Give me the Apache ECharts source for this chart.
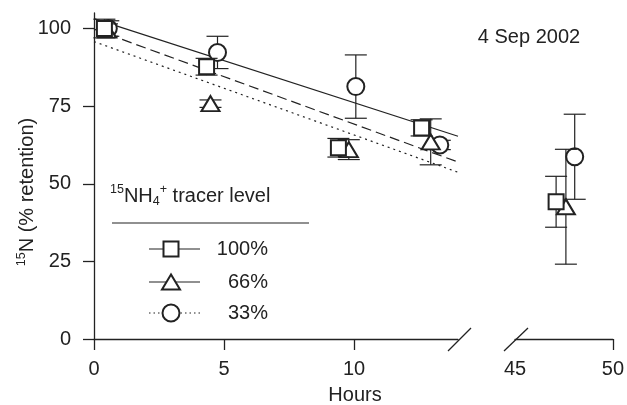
<!DOCTYPE html>
<html>
<head>
<meta charset="utf-8">
<script src="https://cdn.jsdelivr.net/npm/echarts@6/dist/echarts.min.js"></script>
<style>
html,body{margin:0;padding:0;background:#fff;}
#chart{width:627px;height:405px;}
</style>
</head>
<body>
<div id="chart"></div>
<script>
// ---- data (x = hours, y = % retention, e = error half-width) ----
const yTicks = [0, 25, 50, 75, 100];
const xTicksLeft = [0, 5, 10];
const xTicksRight = [45, 50];

const squareLeft   = [[0.40, 100.0, 3.0], [4.33, 87.7, 2.7], [9.40, 61.6, 3.0], [12.60, 68.0, 2.6]];
const squareRight  = [[47.10, 44.2, 8.2]];
const triangleLeft = [[0.50, 99.5, 2.0], [4.48, 75.8, 1.2], [9.80, 61.0, 3.2], [12.95, 63.5, 7.4]];
const triangleRight= [[47.60, 42.6, 18.5]];
const circleLeft   = [[0.55, 100.0, 2.5], [4.75, 92.3, 5.2], [10.07, 81.3, 10.2], [13.30, 62.5, 1.5]];
const circleRight  = [[48.05, 58.7, 13.7]];

const fit100 = [[0, 103.2], [14, 65.3]];
const fit66  = [[0, 99.8], [14, 57.0]];
const fit33  = [[0, 95.8], [14, 53.7]];

const legendLabels = ['100%', '66%', '33%'];
const dateLabel = '4 Sep 2002';
const xName = 'Hours';

// ---- chart ----
const FONT = 'Liberation Sans, Arial, Helvetica, sans-serif';
const INK = '#222';
const FS = 20;
const chart = echarts.init(document.getElementById('chart'), null, {renderer: 'canvas'});

function errRender(params, api) {
  const x = api.value(0), y = api.value(1), e = api.value(2);
  const t = api.coord([x, y + e]);
  const b = api.coord([x, y - e]);
  const hw = 11;
  const st = {stroke: INK, lineWidth: 1.2};
  return {type: 'group', children: [
    {type: 'line', shape: {x1: t[0], y1: t[1], x2: b[0], y2: b[1]}, style: st},
    {type: 'line', shape: {x1: t[0] - hw, y1: t[1], x2: t[0] + hw, y2: t[1]}, style: st},
    {type: 'line', shape: {x1: b[0] - hw, y1: b[1], x2: b[0] + hw, y2: b[1]}, style: st}
  ]};
}

function errSeries(data, xi, z) {
  return {type: 'custom', xAxisIndex: xi, yAxisIndex: xi, data: data, renderItem: errRender,
          z: z, silent: true, encode: {x: 0, y: 1}};
}
function symSeries(data, xi, symbol, size, z) {
  return {type: 'scatter', xAxisIndex: xi, yAxisIndex: xi, data: data, symbol: symbol,
          symbolSize: size, z: z, silent: true,
          itemStyle: {color: '#fff', borderColor: INK, borderWidth: 2, opacity: 1}};
}
function fitSeries(data, type) {
  return {type: 'line', xAxisIndex: 0, yAxisIndex: 0, data: data, symbol: 'none', z: 1, silent: true,
          lineStyle: {color: INK, width: 1.2, type: type}};
}

const axisLabelStyle = {color: INK, fontSize: FS, fontFamily: FONT};

chart.setOption({
  animation: false,
  grid: [
    {left: 94, width: 364, top: 13, bottom: 66},
    {left: 515, width: 104, top: 13, bottom: 66}
  ],
  xAxis: [
    {type: 'value', gridIndex: 0, min: 0, max: 14,
     axisLine: {show: true, lineStyle: {color: INK, width: 1.3}},
     axisTick: {show: true, length: 11, customValues: xTicksLeft, lineStyle: {color: INK, width: 1.3}},
     axisLabel: Object.assign({margin: 20, customValues: xTicksLeft}, axisLabelStyle),
     splitLine: {show: false}},
    {type: 'value', gridIndex: 1, min: 45, max: 50,
     axisLine: {show: true, lineStyle: {color: INK, width: 1.3}},
     axisTick: {show: true, length: 11, customValues: [xTicksRight[1]], lineStyle: {color: INK, width: 1.3}},
     axisLabel: Object.assign({margin: 20, customValues: xTicksRight}, axisLabelStyle),
     splitLine: {show: false}}
  ],
  yAxis: [
    {type: 'value', gridIndex: 0, min: 0, max: 105,
     axisLine: {show: true, lineStyle: {color: INK, width: 1.3}},
     axisTick: {show: true, length: 11, customValues: yTicks, lineStyle: {color: INK, width: 1.3}},
     axisLabel: Object.assign({margin: 23, customValues: yTicks}, axisLabelStyle),
     splitLine: {show: false}},
    {type: 'value', gridIndex: 1, min: 0, max: 105, show: false, splitLine: {show: false}}
  ],
  series: [
    fitSeries(fit100, 'solid'),
    fitSeries(fit66, [10, 5]),
    fitSeries(fit33, [2, 4]),
    errSeries(circleLeft, 0, 2), symSeries(circleLeft, 0, 'circle', 17, 3),
    errSeries(circleRight, 1, 2), symSeries(circleRight, 1, 'circle', 17, 3),
    errSeries(triangleLeft, 0, 4), symSeries(triangleLeft, 0, 'triangle', [18, 15], 5),
    errSeries(triangleRight, 1, 4), symSeries(triangleRight, 1, 'triangle', [18, 15], 5),
    errSeries(squareLeft, 0, 6), symSeries(squareLeft, 0, 'rect', 15, 7),
    errSeries(squareRight, 1, 6), symSeries(squareRight, 1, 'rect', 15, 7)
  ]
});

// ---- annotations, legend, axis break marks ----
const pL = chart.convertToPixel({xAxisIndex: 0, yAxisIndex: 0}, [14, 0]);
const pR = chart.convertToPixel({xAxisIndex: 1, yAxisIndex: 1}, [45, 0]);
const slashStyle = {stroke: INK, lineWidth: 1.3};
const lg = {x1: 149, x2: 200, cx: 171, textRight: 268, ys: [249, 282, 313]};

const txt = (x, y, text, extra) => ({type: 'text', x: x, y: y, silent: true,
  style: Object.assign({text: text, fill: INK, fontSize: FS, fontFamily: FONT}, extra || {})});

chart.setOption({
  graphic: [
    // axis breaks
    {type: 'line', silent: true, shape: {x1: pL[0] - 10, y1: pL[1] + 12, x2: pL[0] + 13, y2: pL[1] - 11}, style: slashStyle},
    {type: 'line', silent: true, shape: {x1: pR[0] - 11, y1: pR[1] + 12, x2: pR[0] + 13, y2: pR[1] - 11}, style: slashStyle},
    // texts
    txt(529, 37, dateLabel, {align: 'center', verticalAlign: 'middle'}),
    txt(355, 395, xName, {align: 'center', verticalAlign: 'middle'}),
    {type: 'text', x: 27, y: 192, rotation: Math.PI / 2, silent: true,
     style: {text: '{s|15}N (% retention)', fill: INK, fontSize: FS, fontFamily: FONT,
             align: 'center', verticalAlign: 'middle',
             rich: {s: {fontSize: 12.5, fontFamily: FONT, fill: INK, verticalAlign: 'top', lineHeight: 23}}}},
    // legend
    {type: 'text', x: 110, y: 196, silent: true,
     style: {text: '{s|15}NH{b|4}{s|+} tracer level', fill: INK, fontSize: FS, fontFamily: FONT,
             align: 'left', verticalAlign: 'middle',
             rich: {s: {fontSize: 12.5, fontFamily: FONT, fill: INK, verticalAlign: 'top', lineHeight: 25},
                    b: {fontSize: 12.5, fontFamily: FONT, fill: INK, verticalAlign: 'bottom', lineHeight: 25}}}},
    {type: 'line', silent: true, shape: {x1: 112, y1: 223, x2: 309, y2: 223}, style: {stroke: INK, lineWidth: 1.2}},
    {type: 'line', silent: true, shape: {x1: lg.x1, y1: lg.ys[0], x2: lg.x2, y2: lg.ys[0]}, style: {stroke: INK, lineWidth: 1.2}},
    {type: 'line', silent: true, shape: {x1: lg.x1, y1: lg.ys[1], x2: lg.x2, y2: lg.ys[1]}, style: {stroke: INK, lineWidth: 1.2}},
    {type: 'line', silent: true, shape: {x1: lg.x1, y1: lg.ys[2], x2: lg.x2, y2: lg.ys[2]}, style: {stroke: INK, lineWidth: 1.2, lineDash: [1.5, 3]}},
    {type: 'rect', silent: true, shape: {x: lg.cx - 7.5, y: lg.ys[0] - 7.5, width: 15, height: 15}, style: {fill: '#fff', stroke: INK, lineWidth: 2}},
    {type: 'polygon', silent: true, shape: {points: [[lg.cx, lg.ys[1] - 7.5], [lg.cx - 9, lg.ys[1] + 7.5], [lg.cx + 9, lg.ys[1] + 7.5]]}, style: {fill: '#fff', stroke: INK, lineWidth: 2}},
    {type: 'circle', silent: true, shape: {cx: lg.cx, cy: lg.ys[2], r: 8.5}, style: {fill: '#fff', stroke: INK, lineWidth: 2}},
    txt(lg.textRight, lg.ys[0], legendLabels[0], {align: 'right', verticalAlign: 'middle'}),
    txt(lg.textRight, lg.ys[1], legendLabels[1], {align: 'right', verticalAlign: 'middle'}),
    txt(lg.textRight, lg.ys[2], legendLabels[2], {align: 'right', verticalAlign: 'middle'})
  ]
});
</script>
</body>
</html>
